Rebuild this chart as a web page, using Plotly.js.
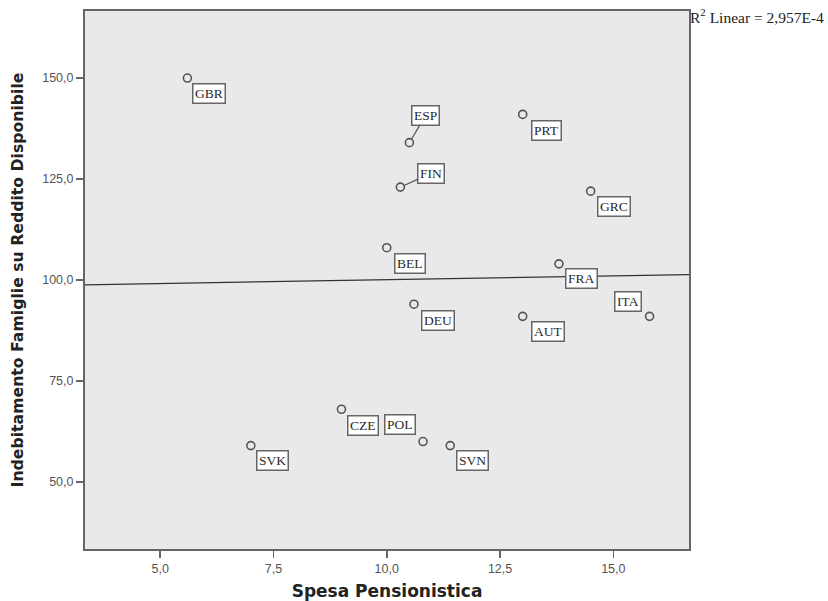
<!DOCTYPE html>
<html>
<head>
<meta charset="utf-8">
<script src="https://cdn.plot.ly/plotly-3.0.1.min.js"></script>
<style>html,body{margin:0;padding:0;background:#fff;}#chart{width:828px;height:601px;}</style>
</head>
<body>
<div id="chart"></div>
<script>
// Data
const countries = ["GBR","ESP","FIN","BEL","PRT","GRC","FRA","ITA","AUT","DEU","POL","SVN","CZE","SVK"];
const spesaPensionistica = [5.6,10.5,10.3,10.0,13.0,14.5,13.8,15.8,13.0,10.6,10.8,11.4,9.0,7.0];
const indebitamentoFamiglie = [150,134,123,108,141,122,104,91,91,94,60,59,68,59];
const xTicks = [5,7.5,10,12.5,15];
const yTicks = [50,75,100,125,150];
const r2Text = "R<sup>2</sup> Linear = 2,957E-4";

// Label placement (pixel offsets from each point) - style only
const labelOffsets = {
  GBR:[22,15], ESP:[16,-27], FIN:[31,-14], BEL:[23,16], PRT:[24,16], GRC:[23,15],
  FRA:[23,15], ITA:[-22,-15], AUT:[25,15], DEU:[24,16], POL:[-23,-17], SVN:[22,15],
  CZE:[22,16], SVK:[22,15]
};
const leaderLines = {ESP:true, FIN:true};

const xRange = [3.34,16.67];
const yRange = [33.4,166.6];

// OLS fit line
const n = spesaPensionistica.length;
const mx = spesaPensionistica.reduce((a,b)=>a+b,0)/n;
const my = indebitamentoFamiglie.reduce((a,b)=>a+b,0)/n;
let sxy=0, sxx=0;
for (let i=0;i<n;i++){ sxy += (spesaPensionistica[i]-mx)*(indebitamentoFamiglie[i]-my); sxx += (spesaPensionistica[i]-mx)**2; }
const slope = sxy/sxx, intercept = my - slope*mx;
const fitX = xRange.slice();
const fitY = fitX.map(x=>intercept+slope*x);

const traces = [
  {x: fitX, y: fitY, mode:'lines', line:{color:'#333', width:1.2}, hoverinfo:'skip', showlegend:false},
  {x: spesaPensionistica, y: indebitamentoFamiglie, text: countries, mode:'markers',
   marker:{symbol:'circle-open', size:8, color:'#555', line:{width:1.6, color:'#555'}}, showlegend:false}
];

const annotations = countries.map((c,i)=>{
  const off = labelOffsets[c];
  const base = {x: spesaPensionistica[i], y: indebitamentoFamiglie[i], xref:'x', yref:'y', text:c,
    font:{family:'Liberation Serif', size:13.5, color:'#2a2a2a'}, bgcolor:'#ffffff', bordercolor:'#666',
    borderwidth:1.5, borderpad:1.5};
  if (leaderLines[c]) {
    return Object.assign(base,{showarrow:true, arrowhead:0, arrowwidth:1.2, arrowcolor:'#555', ax:off[0], ay:off[1], standoff:4});
  }
  return Object.assign(base,{showarrow:false, xshift:off[0], yshift:-off[1]});
});
annotations.push({xref:'paper', yref:'paper', x:1, y:1.013, xanchor:'left', yanchor:'top', showarrow:false,
  text:r2Text, font:{family:'Liberation Serif', size:15.5, color:'#222'}, xshift:-1});

const axisCommon = {showgrid:false, zeroline:false, showline:true, linecolor:'#666', linewidth:2, mirror:true,
  ticks:'outside', ticklen:7, tickwidth:1.5, tickcolor:'#666', tickformat:'.1f',
  tickfont:{family:'Liberation Sans', size:12.5, color:'#555'}};

const layout = {
  width:828, height:601,
  margin:{l:85, r:139, t:11, b:52},
  paper_bgcolor:'#ffffff', plot_bgcolor:'#e9e9eb',
  separators:',.',
  xaxis: Object.assign({}, axisCommon, {range:xRange, tickmode:'array', tickvals:xTicks,
    title:{text:'Spesa Pensionistica', font:{family:'DejaVu Sans', size:17, color:'#222', weight:'bold'}, standoff:15}}),
  yaxis: Object.assign({}, axisCommon, {range:yRange, tickmode:'array', tickvals:yTicks,
    title:{text:'Indebitamento Famiglie su Reddito Disponibile', font:{family:'DejaVu Sans', size:15.7, color:'#222', weight:'bold'}, standoff:15}}),
  annotations: annotations,
  showlegend:false
};

Plotly.newPlot('chart', traces, layout, {staticPlot:true});
</script>
</body>
</html>
